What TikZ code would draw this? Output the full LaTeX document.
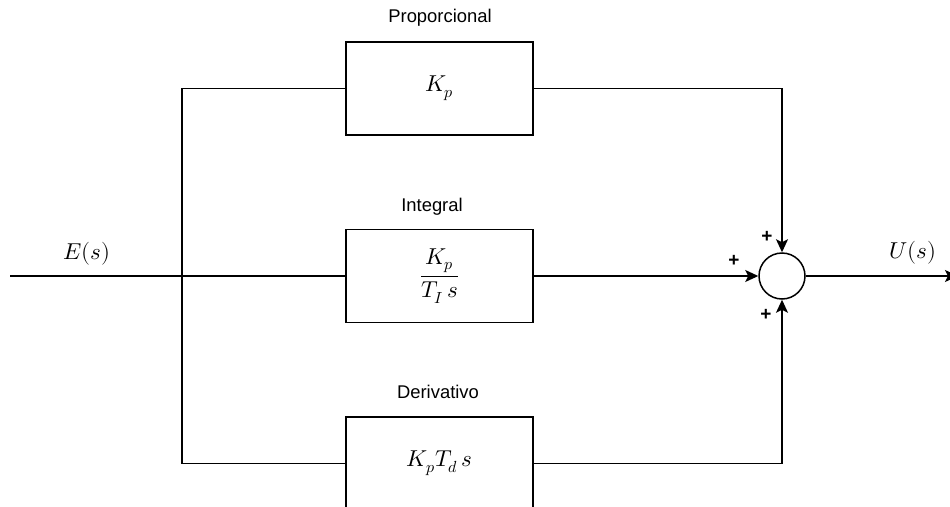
\documentclass[tikz,border=0pt]{standalone}
\usepackage{fontspec}
\setmainfont{Liberation Sans}
\usepackage{unicode-math}
\setmathfont{Latin Modern Math}
\usetikzlibrary{arrows.meta}
\tikzset{
  blk/.style={draw, line width=1.5pt, minimum width=187pt, minimum height=93pt, inner sep=0pt, font=\fontsize{23}{27}\selectfont},
  sumj/.style={draw, circle, line width=1.5pt, minimum size=46pt, inner sep=0pt},
  wire/.style={line width=1.5pt},
  arr/.style={line width=1.5pt, -{Stealth[length=13pt, width=12pt, inset=3pt]}},
  lbl/.style={font=\fontsize{18.4}{22}\selectfont, inner sep=0pt},
  mlbl/.style={font=\fontsize{23}{27}\selectfont, inner sep=0pt},
  pl/.style={font=\fontsize{19}{21}\selectfont\bfseries, inner sep=0pt}
}
\begin{document}
\begin{tikzpicture}[x=1pt, y=-1pt]
\useasboundingbox (0,0) rectangle (950,506);
\clip (0,0) rectangle (950,506);
\node[blk] (P) at (439.5,88.5) {$K_p$};
\node[blk] (I) at (439.5,276) {$\dfrac{K_p}{T_I\,s}$};
\node[blk] (D) at (439.5,463.5) {$K_pT_d\,s$};
\node[sumj] (S) at (782,276) {};
\node[lbl] (lP) at (440,18) {Proporcional};
\node[lbl] (lI) at (432,207) {Integral};
\node[lbl] (lD) at (438,392) {Derivativo};
\node[mlbl] (lE) at (87,254) {$E(s)$};
\node[mlbl] (lU) at (913,253) {$U(s)$};
\node[pl] (p1) at (767,237) {+};
\node[pl] (p2) at (734,261) {+};
\node[pl] (p3) at (766,315) {+};
\coordinate (in) at (10,276);
\coordinate (br) at (182,276);
\coordinate (out) at (958,276);
\draw[wire] (in) -- (br);
\draw[wire] (br) -- (I.west);
\draw[wire] (P.west) -| (br) |- (D.west);
\draw[arr] (P.east) -| (S.north);
\draw[arr] (I.east) -- (S.west);
\draw[arr] (D.east) -| (S.south);
\draw[arr] (S.east) -- (out);
\end{tikzpicture}
\end{document}
